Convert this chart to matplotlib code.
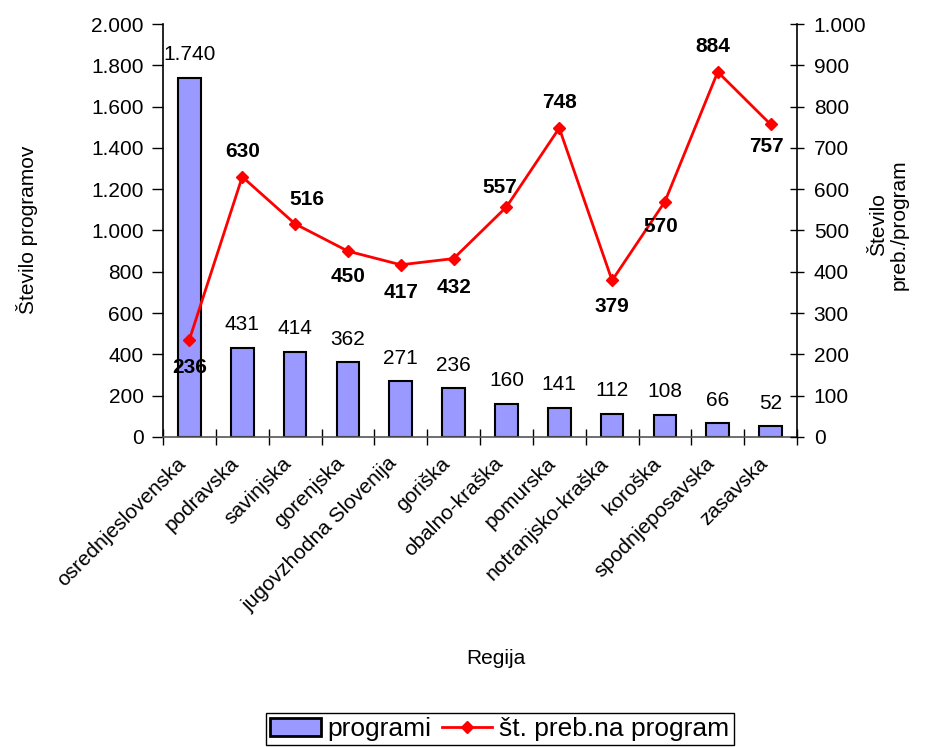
import matplotlib
matplotlib.use("Agg")
import matplotlib.pyplot as plt
from matplotlib.ticker import FuncFormatter, FixedLocator
from matplotlib.patches import Patch
from matplotlib.lines import Line2D
from matplotlib.transforms import ScaledTranslation

regions = ["osrednjeslovenska", "podravska", "savinjska", "gorenjska",
           "jugovzhodna Slovenija", "goriška", "obalno-kraška", "pomurska",
           "notranjsko-kraška", "koroška", "spodnjeposavska", "zasavska"]
programi = [1740, 431, 414, 362, 271, 236, 160, 141, 112, 108, 66, 52]
preb_na_program = [236, 630, 516, 450, 417, 432, 557, 748, 379, 570, 884, 757]

# label offsets (pixels) for line value labels
line_lbl_off = [(0, -28), (0, 25), (12, 24), (0, -25), (0, -28), (0, -29),
                (-7, 19), (0, 26), (0, -26), (-4, -25), (-5, 25), (-4, -22)]

plt.rcParams['font.family'] = ['Liberation Sans', 'DejaVu Sans']
FS = 15

def fmt(v, pos=None):
    return f"{int(v):,}".replace(",", ".")

fig = plt.figure(figsize=(9.4, 7.47), dpi=100)
W, H = 940, 747
ax = fig.add_axes([163 / W, 1 - 437 / H, (797 - 163) / W, (437 - 24) / H])
ax2 = ax.twinx()

x = list(range(len(regions)))
ax.bar(x, programi, width=0.43, color="#9999FF", edgecolor="black", linewidth=1.5, zorder=2)
ax.set_xlim(-0.5, len(regions) - 0.5)
ax.set_ylim(0, 2000)
ax.set_yticks(range(0, 2001, 200))
ax.yaxis.set_major_formatter(FuncFormatter(fmt))
ax.tick_params(axis='y', direction='out', length=8, width=1, labelsize=FS, pad=6)

ax.set_xticks(x)
ax.set_xticklabels(regions, rotation=45, ha='right', va='top', rotation_mode='anchor', fontsize=FS)
ax.tick_params(axis='x', which='major', length=0, pad=12)
shift = ScaledTranslation(-13 / 100, 0, fig.dpi_scale_trans)
for lbl in ax.get_xticklabels():
    lbl.set_transform(lbl.get_transform() + shift)
ax.xaxis.set_minor_locator(FixedLocator([i + 0.5 for i in range(-1, len(regions))]))
ax.tick_params(axis='x', which='minor', direction='inout', length=12, width=1)

for s in ['top', 'right']:
    ax.spines[s].set_visible(False)
for s in ['top', 'left', 'bottom']:
    ax2.spines[s].set_visible(False)
ax.spines['left'].set_linewidth(1.2)
ax.spines['bottom'].set_color('#555555')
ax.spines['bottom'].set_linewidth(1.2)
ax2.spines['right'].set_linewidth(1.2)

for xi, v in zip(x, programi):
    ax.annotate(fmt(v), (xi, v), xytext=(0, 23), textcoords='offset pixels',
                ha='center', va='center', fontsize=FS)

ax2.plot(x, preb_na_program, color='#FF0000', linewidth=2, marker='D', markersize=6, zorder=3)
ax2.set_ylim(0, 1000)
ax2.set_yticks(range(0, 1001, 100))
ax2.yaxis.set_major_formatter(FuncFormatter(fmt))
ax2.tick_params(axis='y', direction='inout', length=10, width=1, labelsize=FS, pad=7)

for xi, v, (dx, dy) in zip(x, preb_na_program, line_lbl_off):
    ax2.annotate(str(v), (xi, v), xytext=(dx, dy), textcoords='offset pixels',
                 ha='center', va='center', fontsize=FS, fontweight='bold')

fig.text(27 / W, 1 - 230 / H, "Število programov", rotation=90, ha='center', va='center', fontsize=FS)
fig.text(889 / W, 1 - 225 / H, "Število\npreb./program", rotation=90, ha='center', va='center',
         fontsize=FS, linespacing=1.1)
fig.text(496 / W, 1 - 659 / H, "Regija", ha='center', va='center', fontsize=FS)

handles = [Patch(facecolor="#9999FF", edgecolor="black", linewidth=2),
           Line2D([0], [0], color='#FF0000', linewidth=2, marker='D', markersize=6)]
leg = fig.legend(handles, ["programi", "št. preb.na program"], loc='center',
                 bbox_to_anchor=(500 / W, 1 - 729 / H), ncol=2, fontsize=19,
                 frameon=True, fancybox=False, edgecolor='black', framealpha=1,
                 borderpad=0.15, handlelength=1.9, handletextpad=0.27, columnspacing=0.4,
                 borderaxespad=0)
leg.get_frame().set_linewidth(1.0)

fig.savefig("out.png", dpi=100)
